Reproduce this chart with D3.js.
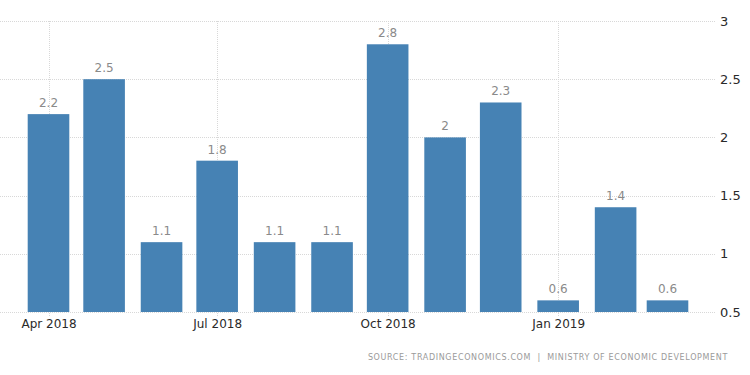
<!DOCTYPE html>
<html>
<head>
<meta charset="utf-8">
<script src="https://cdnjs.cloudflare.com/ajax/libs/d3/7.8.5/d3.min.js"></script>
<style>
	body { margin: 0; background: #fff; }
	svg { display: block; font-family: "DejaVu Sans", sans-serif; }
	.grid line { stroke: #d8d8d8; stroke-dasharray: 1,1; }
	.value-label { fill: #8a8a8a; font-size: 12px; }
	.x-label { fill: #2a2a2a; font-size: 12px; }
	.y-label { fill: #2a2a2a; font-size: 13px; }
	.source { fill: #9a9a9a; font-size: 8px; letter-spacing: 0.65px; }
</style>
</head>
<body>
<div id="chart"></div>
<script>
// monthly values, Apr 2018 - Mar 2019
var months = ["2018-04", "2018-05", "2018-06", "2018-07", "2018-08", "2018-09",
	"2018-10", "2018-11", "2018-12", "2019-01", "2019-02", "2019-03"];
var values = [2.2, 2.5, 1.1, 1.8, 1.1, 1.1, 2.8, 2, 2.3, 0.6, 1.4, 0.6];
var xTicks = ["2018-04", "2018-07", "2018-10", "2019-01"];
var yTicks = [0.5, 1, 1.5, 2, 2.5, 3];
var sourceText = "SOURCE: TRADINGECONOMICS.COM  |  MINISTRY OF ECONOMIC DEVELOPMENT";

var width = 750, height = 375;
var plotLeft = 0, plotRight = 716, plotTop = 21, plotBottom = 312;
var barWidth = 41.6;

var parseMonth = d3.timeParse("%Y-%m");
var data = months.map(function(m, i){
	return { date: parseMonth(m), value: values[i] };
});

var svg = d3.select("#chart").append("svg")
	.attr("width", width)
	.attr("height", height);

var x = d3.scaleTime()
	.domain([parseMonth("2018-04"), parseMonth("2019-03")])
	.range([48.5, 667.5]);

var y = d3.scaleLinear()
	.domain([0.5, 3])
	.range([plotBottom, plotTop]);

// horizontal grid
svg.append("g").attr("class", "grid")
	.selectAll("line")
	.data(yTicks).enter()
	.append("line")
		.attr("x1", plotLeft)
		.attr("x2", plotRight)
		.attr("y1", function(d){ return Math.round(y(d)) + 0.5; })
		.attr("y2", function(d){ return Math.round(y(d)) + 0.5; });

// vertical grid at quarter ticks
svg.append("g").attr("class", "grid")
	.selectAll("line")
	.data(xTicks.map(parseMonth)).enter()
	.append("line")
		.attr("x1", function(d){ return Math.round(x(d)) + 0.5; })
		.attr("x2", function(d){ return Math.round(x(d)) + 0.5; })
		.attr("y1", plotTop)
		.attr("y2", plotBottom + 4);

// bars
svg.selectAll(".bar")
	.data(data).enter()
	.append("rect")
		.attr("class", "bar")
		.attr("x", function(d){ return x(d.date) - barWidth / 2; })
		.attr("y", function(d){ return y(d.value); })
		.attr("width", barWidth)
		.attr("height", function(d){ return plotBottom - y(d.value); })
		.attr("fill", "#4682b4");

// value labels
svg.selectAll(".value-label")
	.data(data).enter()
	.append("text")
		.attr("class", "value-label")
		.attr("x", function(d){ return x(d.date); })
		.attr("y", function(d){ return y(d.value) - 7; })
		.attr("text-anchor", "middle")
		.text(function(d){ return d3.format("~g")(d.value); });

// x axis labels
var xAxis = d3.axisBottom(x)
	.tickValues(xTicks.map(parseMonth))
	.tickFormat(d3.timeFormat("%b %Y"))
	.tickSize(0)
	.tickPadding(7);
var gx = svg.append("g")
	.attr("transform", "translate(0," + plotBottom + ")")
	.call(xAxis);
gx.select(".domain").remove();
gx.selectAll("text").attr("class", "x-label").attr("fill", null);
gx.attr("font-size", null).attr("font-family", null);

// y axis labels on the right
var yAxis = d3.axisRight(y)
	.tickValues(yTicks)
	.tickFormat(d3.format("~g"))
	.tickSize(0)
	.tickPadding(4);
var gy = svg.append("g")
	.attr("transform", "translate(" + plotRight + ",0)")
	.call(yAxis);
gy.select(".domain").remove();
gy.selectAll("text").attr("class", "y-label").attr("fill", null);
gy.attr("font-size", null).attr("font-family", null);

// source note
svg.append("text")
	.attr("class", "source")
	.attr("x", 728)
	.attr("y", 360)
	.attr("text-anchor", "end")
	.attr("xml:space", "preserve")
	.style("white-space", "pre")
	.text(sourceText);
</script>
</body>
</html>
